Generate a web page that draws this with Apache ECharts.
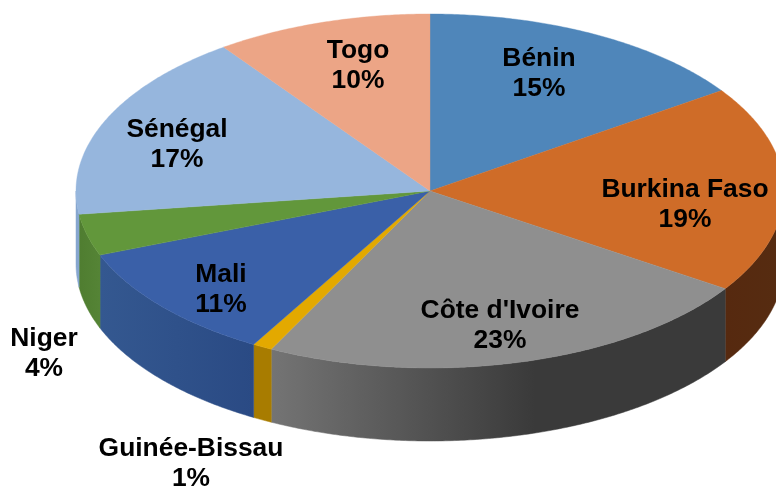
<!DOCTYPE html>
<html>

<head>
  <meta charset="utf-8">
  <title>Répartition</title>
  <script src="https://cdn.jsdelivr.net/npm/echarts@6/dist/echarts.min.js"></script>
  <style>
    html, body { margin: 0; padding: 0; background: #fff; overflow: hidden; }
  </style>
</head>

<body>
  <div id="chart" style="width: 776px;height:486px;"></div>
  <script>
    // values, clockwise from 12 o'clock
    const countries = ['Bénin', 'Burkina Faso', "Côte d'Ivoire", 'Guinée-Bissau', 'Mali', 'Niger', 'Sénégal', 'Togo'];
    const shares = [15.4, 18.9, 23.1, 0.9, 10.8, 3.8, 17.2, 9.9];

    const topColors = ['#4f86ba', '#cf6c28', '#8f8f8f', '#e3a900', '#3a60a8', '#62973b', '#96b6dd', '#eca586'];
    // left and right colour of each side wall
    const wallColors = [
        ['#3a6389', '#3a6389'], ['#56290f', '#562c11'], ['#747474', '#3a3a3a'], ['#a87c00', '#a87c00'],
        ['#345890', '#2a4a84'], ['#4f7d30', '#558436'], ['#86a6cf', '#86a6cf'], ['#b07b63', '#b07b63']
    ];
    // label centres, the picture places them by hand
    const labelAt = [[539, 74], [685, 205], [500, 326], [191, 464], [221, 290], [44, 354], [177, 145], [358, 66]];

    const CX = 430, CY = 191, RX = 354, RY = 177, DEPTH = 73;
    const total = shares.reduce((a, b) => a + b, 0);

    function rim(deg, drop) {
        const a = deg * Math.PI / 180;
        return [CX + RX * Math.sin(a), CY - RY * Math.cos(a) + drop];
    }

    function arc(from, to, drop) {
        let pts = [];
        for (let d = from; d < to; d += 0.5) pts.push(rim(d, drop));
        pts.push(rim(to, drop));
        return pts;
    }

    function renderItem(params, api) {
        const i = params.dataIndex;
        let start = 0;
        for (let k = 0; k < i; k++) start += shares[k];
        const from = start / total * 360;
        const to = (start + api.value(0)) / total * 360;
        let children = [];

        // only the front half of the rim shows a wall
        const wFrom = Math.max(from, 90), wTo = Math.min(to, 270);
        if (wFrom < wTo) {
            const top = arc(wFrom, wTo, 0);
            const bottom = arc(wFrom, wTo, DEPTH).reverse();
            let stops = [
                { offset: 0, color: wallColors[i][0] },
                { offset: 1, color: wallColors[i][1] }
            ];
            // grey wall goes dark past the middle of the chart and stays dark
            if (i === 2) stops = [
                { offset: 0, color: wallColors[i][0] },
                { offset: 0.58, color: wallColors[i][1] },
                { offset: 1, color: wallColors[i][1] }
            ];
            const grad = new echarts.graphic.LinearGradient(0, 0, 1, 0, stops);
            children.push({
                type: 'polygon',
                z2: 1,
                shape: { points: top.concat(bottom) },
                style: { fill: grad, stroke: grad, lineWidth: 0.5 }
            });
        }

        children.push({
            type: 'polygon',
            z2: 2,
            shape: { points: [[CX, CY]].concat(arc(from, to, 0)) },
            style: { fill: topColors[i], stroke: topColors[i], lineWidth: 0.4 }
        });

        children.push({
            type: 'text',
            z2: 3,
            x: labelAt[i][0],
            y: labelAt[i][1],
            style: {
                text: countries[i] + '\n' + Math.round(api.value(0)) + '%',
                font: 'bold 26.4px "Liberation Sans", Arial, sans-serif',
                lineHeight: 30,
                fill: '#000',
                align: 'center',
                verticalAlign: 'middle'
            }
        });

        return { type: 'group', children: children };
    }

    const myChart = echarts.init(document.getElementById('chart'));
    myChart.setOption({
        animation: false,
        backgroundColor: '#fff',
        series: [{
            type: 'custom',
            coordinateSystem: 'none',
            renderItem: renderItem,
            clip: false,
            data: shares.map(v => [v])
        }]
    });
  </script>
</body>

</html>
